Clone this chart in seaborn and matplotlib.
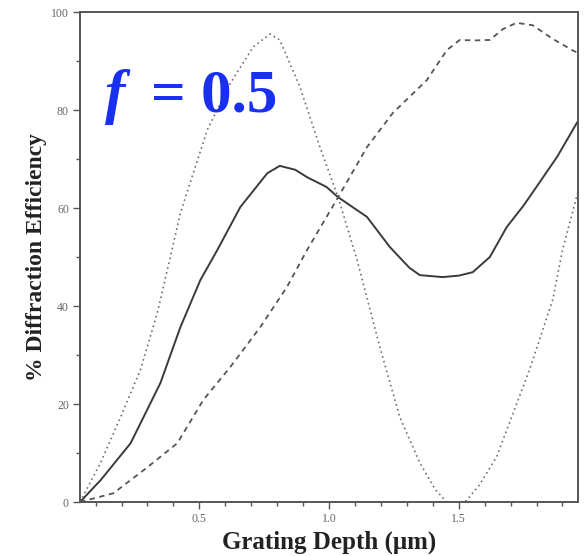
import pandas as pd
import matplotlib.pyplot as plt
import seaborn as sns

# valores (profundidade em um, eficiência em %)
solid_x = [0.04, 0.12, 0.235, 0.35, 0.427, 0.504, 0.569, 0.658, 0.762, 0.81, 0.87, 0.915, 0.99, 1.035,
           1.146, 1.235, 1.31, 1.35, 1.438, 1.50, 1.554, 1.62, 1.685, 1.75, 1.81, 1.88, 1.958]
solid_y = [0, 4.5, 12, 24.3, 35.7, 45.3, 51.4, 60.2, 67.1, 68.6, 67.8, 66.3, 64.3, 62.2,
           58.2, 52, 47.8, 46.3, 45.9, 46.2, 46.9, 50, 56.1, 60.5, 65.1, 70.5, 77.6]

dot_x = [0.04, 0.119, 0.196, 0.273, 0.338, 0.388, 0.427, 0.531, 0.62, 0.708, 0.773, 0.81, 0.888,
         0.965, 1.035, 1.108, 1.196, 1.273, 1.35, 1.41, 1.454, 1.49, 1.53, 1.58, 1.646, 1.773, 1.862,
         1.9, 1.958]
dot_y = [0, 8, 17.3, 27, 38.6, 50, 59, 76, 85.5, 92.9, 95.5, 94.3, 84.7,
         72.4, 62.2, 49.4, 31.6, 17.3, 8, 2.5, 0, -0.3, 0.3, 3.5, 9.2, 27, 41.2,
         51.4, 63]

dash_x = [0.04, 0.169, 0.3, 0.415, 0.515, 0.62, 0.735, 0.838, 0.915, 1.035, 1.146, 1.246,
          1.377, 1.454, 1.504, 1.56, 1.62, 1.67, 1.723, 1.785, 1.86, 1.938, 1.958]
dash_y = [0, 1.8, 7.1, 12, 20.8, 27.6, 35.7, 43.9, 51.4, 62.2, 72.4, 79.4,
          86.1, 92.2, 94.3, 94.2, 94.3, 96.5, 97.8, 97.3, 94.6, 92.2, 91.7]

sns.set_style("ticks")
plt.rcParams['font.family'] = ['Liberation Serif', 'DejaVu Serif']

fig = plt.figure(figsize=(5.85, 5.56), dpi=100)
ax = fig.add_axes([0.1368, 0.0971, 0.8513, 0.8813])

sns.lineplot(x=solid_x, y=solid_y, ax=ax, color='#3a3a3a', linewidth=1.4, sort=False)
sns.lineplot(x=dot_x, y=dot_y, ax=ax, color='#707070', linewidth=1.2, sort=False,
             linestyle=(0, (1, 2)))
sns.lineplot(x=dash_x, y=dash_y, ax=ax, color='#555555', linewidth=1.3, sort=False,
             linestyle=(0, (3, 2.5)))

ax.set_xlim(0.04, 1.96)
ax.set_ylim(0, 100)
ax.set_xticks([0.5, 1.0, 1.5])
ax.set_xticklabels(['0.5', '1.0', '1.5'])
ax.set_xticks([0.1 * i for i in range(1, 20) if i not in (5, 10, 15)], minor=True)
ax.set_yticks([0, 20, 40, 60, 80, 100])
ax.set_yticks([10, 30, 50, 70, 90], minor=True)

ax.tick_params(axis='both', which='major', length=5, width=1, color='#555555',
               labelsize=8.5, labelcolor='#666666', pad=3)
ax.tick_params(axis='both', which='minor', length=3, width=1, color='#555555')

for s in ax.spines.values():
    s.set_color('#555555')
    s.set_linewidth(1.4)

ax.set_xlabel('Grating Depth (μm)', fontsize=18, fontweight='bold', color='#222222', labelpad=4)
ax.set_ylabel('% Diffraction Efficiency', fontsize=17, fontweight='bold', color='#222222', labelpad=3)

ax.text(0.05, 0.796, 'f', transform=ax.transAxes, fontsize=44, fontweight='bold',
        fontstyle='italic', color='#1a30f0', ha='left', va='baseline')
ax.text(0.142, 0.796, '= 0.5', transform=ax.transAxes, fontsize=44, fontweight='bold',
        color='#1a30f0', ha='left', va='baseline')

plt.savefig('out.png', dpi=100)
